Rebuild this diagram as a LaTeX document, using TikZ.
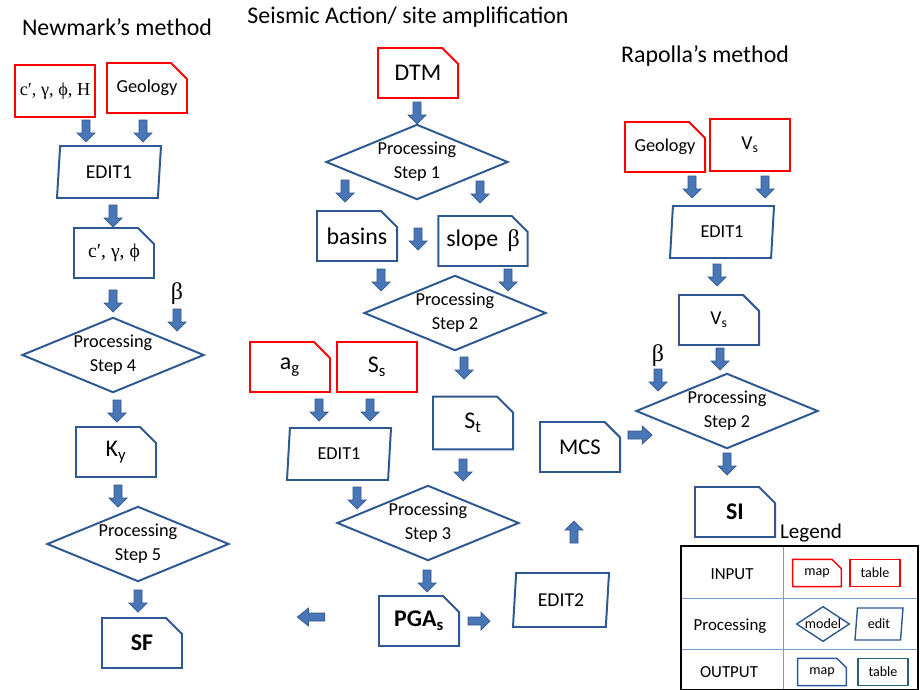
\documentclass[tikz,border=0pt]{standalone}
\usepackage{fontspec}
\setmainfont{Carlito}
\newfontfamily\serifgr{Liberation Serif}
\usetikzlibrary{shapes.geometric,shapes.misc}

\definecolor{nodeblue}{RGB}{46,88,145}
\definecolor{arrowfill}{RGB}{72,118,182}
\definecolor{arrowline}{RGB}{52,88,140}
\definecolor{gridblue}{RGB}{120,155,210}
\definecolor{tealline}{RGB}{45,95,120}

\begin{document}
\begin{tikzpicture}[x=0.025cm,y=-0.025cm,
  map node/.style={chamfered rectangle,chamfered rectangle corners=north east,
    chamfered rectangle xsep=0.2cm,chamfered rectangle ysep=0.2cm,
    draw=nodeblue,line width=1.4pt,minimum width=2cm,minimum height=1.25cm,
    inner sep=0pt,font=\fontsize{17}{20}\selectfont},
  table node/.style={rectangle,draw=nodeblue,line width=1.4pt,
    minimum width=2cm,minimum height=1.25cm,inner sep=0pt,
    font=\fontsize{17}{20}\selectfont},
  in map/.style={map node,draw=red},
  in table/.style={table node,draw=red},
  edit node/.style={trapezium,trapezium left angle=76,trapezium right angle=104,
    trapezium stretches body,draw=nodeblue,line width=1.4pt,
    minimum width=2.6cm,minimum height=1.3cm,inner sep=0pt,
    font=\fontsize{13}{16}\selectfont},
  proc node/.style={diamond,aspect=2.42,draw=nodeblue,line width=1.4pt,
    minimum width=4.55cm,minimum height=1.88cm,inner sep=0pt,align=center,
    font=\fontsize{13}{17}\selectfont},
  blk/.pic={\filldraw[fill=arrowfill,draw=arrowline,line width=0.5pt]
    (-4,-11) -- (4,-11) -- (4,2) -- (9,2) -- (0,11) -- (-9,2) -- (-4,2) -- cycle;},
  title/.style={font=\fontsize{17}{20}\selectfont},
  small map/.style={map node,minimum width=1.22cm,minimum height=0.68cm,
    chamfered rectangle xsep=0.12cm,chamfered rectangle ysep=0.12cm,
    line width=1pt,font=\fontsize{10}{12}\selectfont},
  small table/.style={table node,minimum width=1.25cm,minimum height=0.68cm,
    line width=1pt,font=\fontsize{10}{12}\selectfont}]

  \useasboundingbox (0,0) rectangle (920,690);

  % titles
  \node[title] (t1) at (117,27) {Newmark’s method};
  \node[title] (t2) at (408,17) {Seismic Action/ site amplification};
  \node[title] (t3) at (705,56) {Rapolla’s method};

  % Newmark
  \node[in table,minimum width=2.02cm,minimum height=1.3cm,font=\serifgr\fontsize{13}{16}\selectfont] (n1) at (55,91) {c′, γ, ϕ, H};
  \node[in map,font=\fontsize{13}{16}\selectfont] (n2) at (147,88) {Geology};
  \node[edit node,font=\fontsize{14}{16}\selectfont] (n3) at (109,172) {EDIT1};
  \node[map node,font=\serifgr\fontsize{14}{16}\selectfont] (n4) at (114,253) {c′, γ, ϕ};
  \node[font=\serifgr\fontsize{17}{20}\selectfont] (n5) at (177,294) {β};
  \node[proc node] (n6) at (113,355) {Processing\\Step 4};
  \node[map node] (n7) at (116,452) {K\textsubscript{y}};
  \node[proc node] (n8) at (138,544) {Processing\\Step 5};
  \node[map node,font=\bfseries\fontsize{17}{20}\selectfont] (n9) at (142,643) {SF};

  \pic at (86,131) {blk};
  \pic at (143,131) {blk};
  \pic at (113,216) {blk};
  \pic at (113,301) {blk};
  \pic at (177,320) {blk};
  \pic at (117,411) {blk};
  \pic at (118,496) {blk};
  \pic at (138,601) {blk};

  % seismic action
  \node[in map] (m1) at (418,73) {DTM};
  \node[proc node] (m2) at (417,162) {Processing\\Step 1};
  \node[map node] (m3) at (357,236) {basins};
  \node[map node] (m4) at (483,241) {slope\, {\serifgr β}};
  \node[proc node] (m5) at (455,313) {Processing\\Step 2};
  \node[in map] (m6) at (290,367) {a\textsubscript{g}};
  \node[in table] (m7) at (377,367) {S\textsubscript{s}};
  \node[map node,minimum height=1.32cm] (m8) at (473,423) {S\textsubscript{t}};
  \node[edit node] (m9) at (339,454) {EDIT1};
  \node[proc node] (m10) at (428,523) {Processing\\Step 3};
  \node[map node,font=\bfseries\fontsize{17}{20}\selectfont] (m11) at (419,621) {PGA\textsubscript{s}};
  \node[edit node,minimum width=2.4cm,minimum height=1.35cm,font=\fontsize{14}{16}\selectfont] (m12) at (561,600) {EDIT2};
  \node[map node,font=\fontsize{16}{20}\selectfont] (m13) at (580,447) {MCS};

  \pic at (417,113) {blk};
  \pic at (345,191) {blk};
  \pic at (480,192) {blk};
  \pic at (418,239) {blk};
  \pic at (381,280) {blk};
  \pic at (508,280) {blk};
  \pic at (464,368) {blk};
  \pic at (463,470) {blk};
  \pic at (319,410) {blk};
  \pic at (370,410) {blk};
  \pic at (357,498) {blk};
  \pic at (427,581) {blk};
  \pic[rotate=270,yscale=1.25] at (311,617) {blk};
  \pic[rotate=90] at (479,621) {blk};
  \pic[rotate=180] at (574,532) {blk};
  \pic[rotate=90,yscale=1.1] at (640,435) {blk};

  % Rapolla
  \node[in map,font=\fontsize{13}{16}\selectfont] (r1) at (665,147) {Geology};
  \node[in table,minimum height=1.3cm,font=\fontsize{14}{16}\selectfont] (r2) at (750,145) {V\textsubscript{s}};
  \node[edit node] (r3) at (722,232) {EDIT1};
  \node[map node,font=\fontsize{14}{16}\selectfont] (r4) at (719,320) {V\textsubscript{s}};
  \node[font=\serifgr\fontsize{17}{20}\selectfont] (r5) at (658,356) {β};
  \node[proc node] (r6) at (727,411) {Processing\\Step 2};
  \node[map node,font=\bfseries\fontsize{17}{20}\selectfont] (r7) at (735,512) {SI};

  \pic at (692,187) {blk};
  \pic at (765,187) {blk};
  \pic at (717,275) {blk};
  \pic at (720,359) {blk};
  \pic at (658,380) {blk};
  \pic at (727,464) {blk};

  % legend
  \node[font=\fontsize{15}{18}\selectfont] (lg) at (811,533) {Legend};
  \draw[gridblue,line width=0.6pt] (783,546) -- (783,690)
    (681,598) -- (918,598) (681,649) -- (918,649);
  \draw[black,line width=1.5pt] (681,546) rectangle (918,690);
  \node[font=\fontsize{12}{14}\selectfont] (l1) at (732,574) {INPUT};
  \node[font=\fontsize{12}{14}\selectfont] (l2) at (730,626) {Processing};
  \node[font=\fontsize{12}{14}\selectfont] (l3) at (729,672) {OUTPUT};
  \node[small map,draw=red] (l4) at (817,573) {map};
  \node[small table,draw=red] (l5) at (875,573) {table};
  \node[proc node,aspect=1.5,minimum width=1.33cm,minimum height=0.88cm,line width=1pt,
    font=\fontsize{10}{12}\selectfont] (l6) at (823,624) {model};
  \node[edit node,minimum width=1.2cm,minimum height=0.8cm,line width=1pt,
    font=\fontsize{10}{12}\selectfont] (l7) at (879,624) {edit};
  \node[small map] (l8) at (822,672) {map};
  \node[small table,draw=tealline] (l9) at (883,672) {table};
\end{tikzpicture}
\end{document}
